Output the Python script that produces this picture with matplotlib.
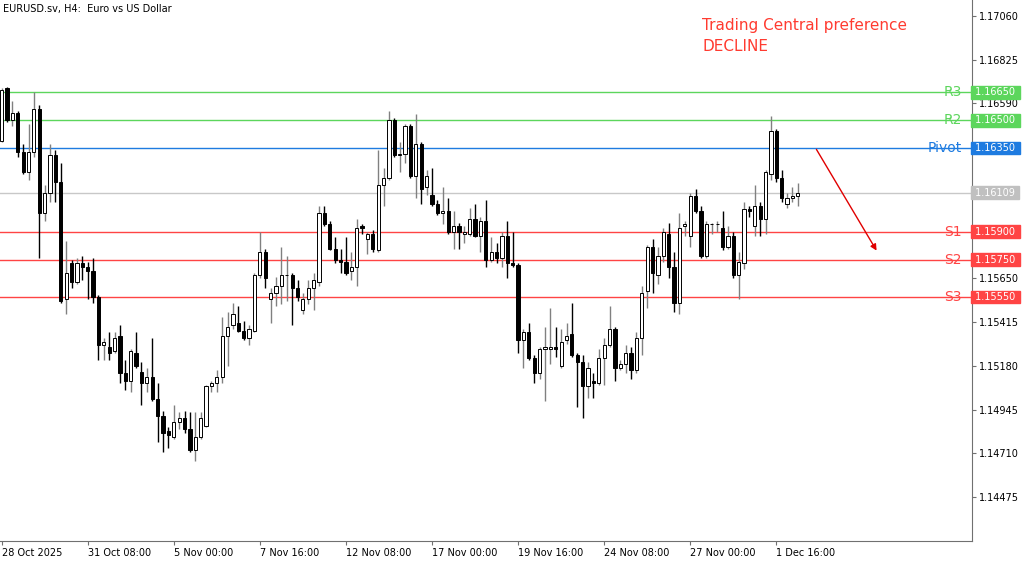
import matplotlib
matplotlib.use("Agg")
import matplotlib.pyplot as plt
import numpy as np

# prices in pips (1e-4)
opens = [11639,11667,11650,11654,11633,11622,11633,11656,11600,11611,11631,11617,11554,11573,11563,11573,11571,11569,11555,11529,
 11528,11526,11534,11514,11510,11525,11515,11509,11512,11500,11491,11483,11480,11488,11490,11484,11473,11480,11486,11507,
 11509,11512,11534,11540,11541,11537,11533,11537,11567,11579,11554,11557,11561,11567,11567,11560,11548,11554,11560,11563,
 11600,11594,11581,11575,11574,11569,11571,11593,11586,11589,11580,11615,11619,11650,11631,11632,11647,11620,11637,11614,
 11610,11605,11600,11601,11590,11593,11589,11589,11597,11588,11596,11575,11579,11576,11588,11573,11572,11532,11536,11522,
 11514,11527,11527,11528,11518,11532,11535,11524,11520,11507,11510,11509,11522,11529,11538,11517,11519,11525,11516,11533,
 11558,11582,11567,11577,11589,11571,11552,11593,11588,11609,11601,11577,11594,11594,11592,11582,11588,11567,11573,11602,
 11593,11604,11597,11621,11644,11619,11605,11608,11609]
highs = [11667,11668,11660,11655,11637,11648,11665,11658,11615,11637,11634,11627,11585,11575,11576,11577,11574,11576,11556,11533,
 11536,11536,11540,11521,11527,11536,11520,11517,11533,11509,11494,11485,11497,11493,11494,11493,11493,11493,11508,11510,
 11516,11544,11547,11552,11550,11542,11540,11568,11590,11581,11560,11566,11582,11577,11568,11564,11557,11564,11568,11604,
 11604,11596,11587,11581,11587,11579,11597,11594,11590,11591,11634,11624,11655,11651,11638,11648,11648,11653,11638,11623,
 11624,11607,11614,11608,11601,11595,11593,11603,11605,11598,11607,11587,11584,11590,11596,11590,11573,11538,11541,11524,
 11528,11539,11549,11539,11538,11541,11552,11525,11524,11520,11514,11527,11533,11550,11539,11521,11529,11528,11536,11561,
 11583,11586,11582,11592,11595,11579,11600,11596,11611,11613,11604,11596,11595,11596,11601,11593,11590,11579,11606,11604,
 11615,11606,11623,11652,11645,11623,11611,11614,11616]
lows = [11638,11649,11647,11630,11621,11618,11630,11576,11596,11606,11606,11552,11546,11560,11562,11564,11554,11552,11521,11521,
 11521,11525,11509,11505,11504,11517,11497,11504,11499,11477,11472,11474,11479,11484,11482,11472,11467,11479,11485,11504,
 11504,11509,11518,11538,11536,11532,11529,11536,11565,11560,11541,11550,11551,11553,11540,11553,11546,11551,11548,11561,
 11593,11580,11573,11568,11567,11564,11561,11589,11578,11579,11579,11604,11618,11630,11622,11627,11619,11608,11605,11610,
 11604,11599,11594,11589,11581,11581,11584,11588,11587,11579,11571,11574,11573,11571,11565,11571,11525,11517,11521,11509,
 11511,11499,11519,11523,11517,11530,11523,11496,11490,11501,11501,11508,11508,11528,11510,11516,11514,11511,11514,11524,
 11549,11557,11562,11574,11565,11547,11546,11588,11582,11600,11576,11576,11589,11590,11580,11581,11565,11554,11570,11598,
 11588,11588,11589,11618,11617,11606,11603,11606,11604]
closes = [11666,11650,11654,11633,11622,11633,11656,11600,11611,11631,11617,11553,11568,11563,11573,11571,11569,11555,11529,11531,
 11525,11533,11514,11510,11526,11518,11509,11512,11500,11491,11482,11481,11488,11490,11484,11473,11480,11490,11507,11509,
 11512,11534,11539,11546,11537,11533,11538,11567,11579,11565,11557,11561,11567,11567,11560,11555,11554,11560,11564,11600,
 11594,11581,11575,11574,11568,11571,11592,11592,11589,11581,11615,11619,11650,11631,11632,11647,11620,11637,11613,11620,
 11605,11600,11601,11590,11593,11590,11590,11597,11588,11596,11575,11579,11576,11588,11573,11572,11532,11536,11522,11514,
 11527,11528,11528,11527,11531,11534,11524,11520,11507,11517,11509,11522,11529,11538,11517,11519,11525,11516,11533,11557,
 11582,11568,11577,11590,11571,11552,11592,11594,11609,11601,11577,11594,11594,11594,11582,11588,11567,11574,11602,11601,
 11604,11597,11622,11644,11619,11608,11608,11609,11611]

tick_idx = [0,16,32,48,64,80,96,112,128,144]
tick_labels = ["28 Oct 2025","31 Oct 08:00","5 Nov 00:00","7 Nov 16:00","12 Nov 08:00","17 Nov 00:00",
               "19 Nov 16:00","24 Nov 08:00","27 Nov 00:00","1 Dec 16:00"]
price_ticks = [1.17060,1.16825,1.16590,1.16355,1.16120,1.15885,1.15650,1.15415,1.15180,1.14945,1.14710,1.14475]
price_tick_labels = ["1.17060","1.16825","1.16590","","","","1.15650","1.15415","1.15180","1.14945","1.14710","1.14475"]
level_names = ["R3","R2","Pivot","S1","S2","S3"]
level_values = [1.16650,1.16500,1.16350,1.15900,1.15750,1.15550]
level_colors = ["#5cd65c","#5cd65c","#1e7be0","#ff4444","#ff4444","#ff4444"]
last_price = 1.16109

O = np.array(opens)/1e4; H = np.array(highs)/1e4; L = np.array(lows)/1e4; C = np.array(closes)/1e4
n = len(O); x = np.arange(n)

fig = plt.figure(figsize=(10.24,5.61), dpi=100)
ax = fig.add_axes([0, 20/561, 972/1024, 541/561])
step = 5.38
ax.set_xlim(-1.6/step, (972-1.6)/step)
ymax = 1.16350 + 148/18625; ymin = 1.16350 - 393/18625
ax.set_ylim(ymin, ymax)

for lv, col in zip(level_values, level_colors):
    ax.axhline(lv, color=col, lw=1, zorder=1)
ax.axhline(last_price, color="#c8c8c8", lw=1, zorder=1)

up = C >= O
ax.vlines(x, L, H, color=np.where(up, "#808080", "#000000"), lw=1, zorder=2)
bw = 0.6
for i in range(n):
    b = min(O[i], C[i]); h = max(abs(C[i]-O[i]), 0.000006)
    if up[i]:
        ax.bar(x[i], h, bw, b, facecolor="white", edgecolor="#000000", lw=0.7, zorder=3)
    else:
        ax.bar(x[i], h, bw, b, facecolor="black", edgecolor="black", lw=0.7, zorder=3)

for name, lv, col in zip(level_names, level_values, level_colors):
    ax.text((962-1.6)/step, lv, name, color=col, fontsize=10, ha="right", va="center", zorder=4)

ax.text(702/972, 1-18/541, "Trading Central preference\nDECLINE", transform=ax.transAxes,
        color="#ff3b30", fontsize=11, va="top", ha="left", linespacing=1.5)
ax.annotate("", xy=((878-1.6)/step, 1.16350-(253-148)/18625), xytext=((815-1.6)/step, 1.16350-(147-148)/18625),
            arrowprops=dict(arrowstyle="-|>", color="#e00000", lw=1, mutation_scale=9))
ax.text(3/972, 1-4/541, "EURUSD.sv, H4:  Euro vs US Dollar", transform=ax.transAxes, fontsize=7, va="top", ha="left")

for s in ["top","left"]:
    ax.spines[s].set_visible(False)
ax.spines["right"].set_color("#707070"); ax.spines["bottom"].set_color("#707070")
ax.yaxis.tick_right()
ax.set_yticks(price_ticks)
ax.set_yticklabels(price_tick_labels, fontsize=7)
ax.tick_params(axis="y", length=3, pad=2, colors="#707070", labelcolor="black")
ax.set_xticks(tick_idx)
ax.set_xticklabels(tick_labels, fontsize=7, ha="left")
ax.tick_params(axis="x", length=3, pad=2, colors="#707070", labelcolor="black")

box_vals = level_values + [last_price]
box_cols = level_colors + ["#c0c0c0"]
for v, col in zip(box_vals, box_cols):
    ax.text(1.0, v, f" {v:.5f} ", transform=ax.get_yaxis_transform(), color="white", fontsize=7,
            va="center", ha="left", zorder=10, clip_on=False,
            bbox=dict(boxstyle="square,pad=0.15", facecolor=col, edgecolor=col))

fig.savefig("out.png", dpi=100, facecolor="white")
